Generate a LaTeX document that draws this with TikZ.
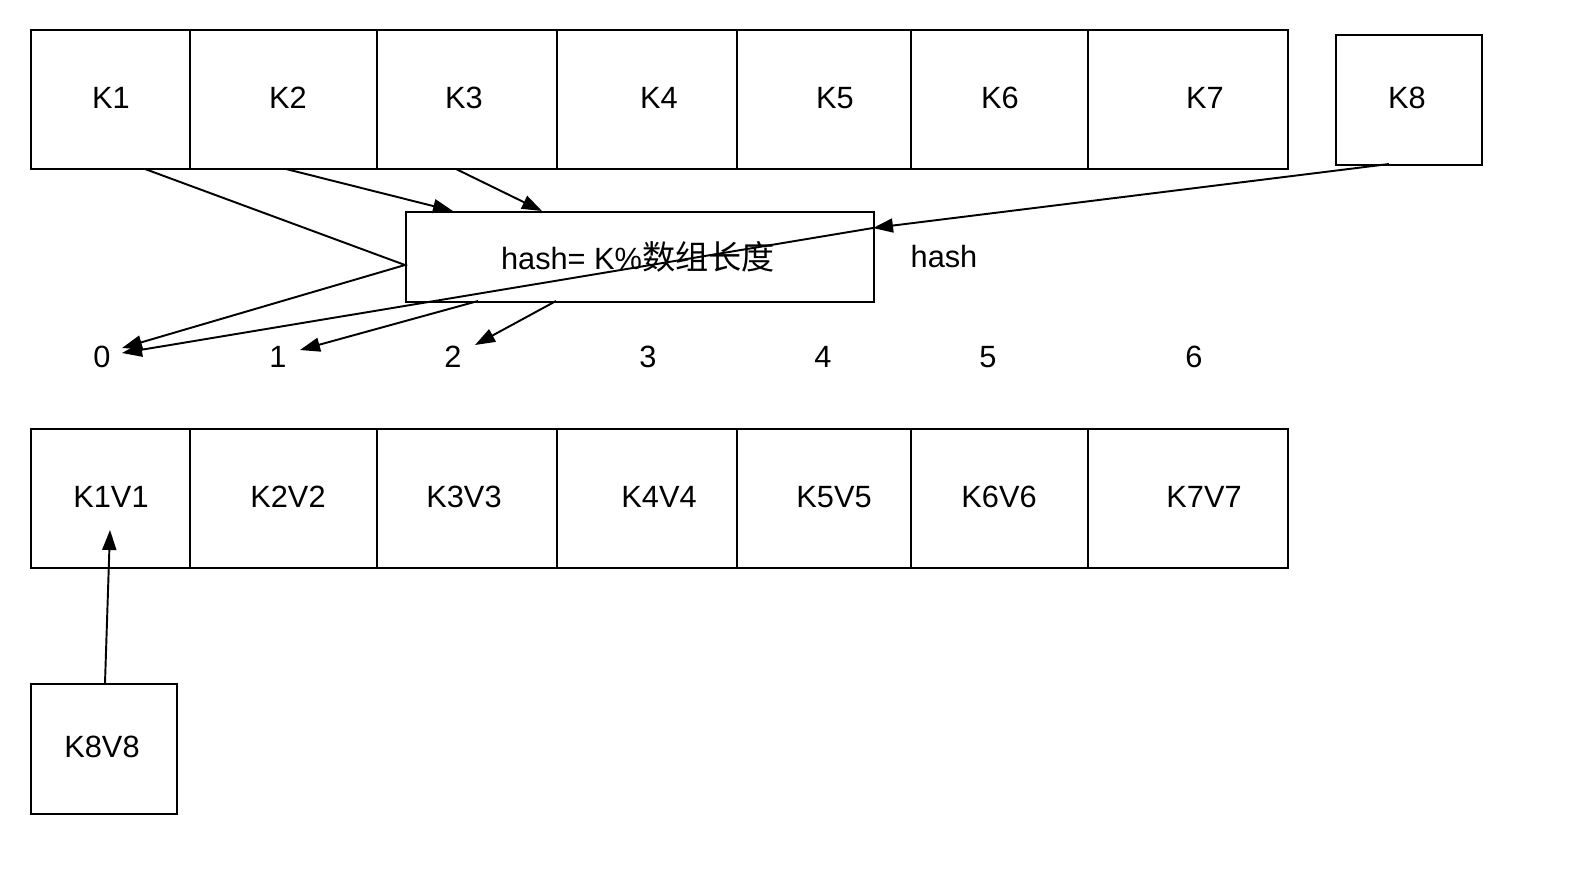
\documentclass[tikz,border=0pt]{standalone}
\usepackage{fontspec}
\setmainfont{Liberation Sans}
\newfontfamily\cjk[Scale=1.08]{Noto Sans CJK SC}
\usetikzlibrary{arrows.meta,calc}
\begin{document}
\begin{tikzpicture}[x=0.02cm,y=-0.02cm,
  cell/.style={draw,line width=1.1pt,inner sep=0,minimum height=2.78cm,anchor=north west},
  box/.style={draw,line width=1.1pt,inner sep=0,anchor=north west},
  lbl/.style={font=\fontsize{17.5}{21}\selectfont,inner sep=0},
  plain/.style={line width=1.1pt},
  conn/.style={line width=1.1pt,-{Triangle[length=0.4cm,width=0.28cm]}}]
\useasboundingbox (0,0) rectangle (1580,894);
% top row
\node[cell,minimum width=3.18cm] (k1) at (30,29) {};
\node[cell,minimum width=3.74cm] (k2) at (189,29) {};
\node[cell,minimum width=3.60cm] (k3) at (376,29) {};
\node[cell,minimum width=3.60cm] (k4) at (556,29) {};
\node[cell,minimum width=3.48cm] (k5) at (736,29) {};
\node[cell,minimum width=3.54cm] (k6) at (910,29) {};
\node[cell,minimum width=4.00cm] (k7) at (1087,29) {};
\node[box,minimum width=2.92cm,minimum height=2.6cm] (k8) at (1335,34) {};
\node[lbl] (tk1) at (111,98) {K1};
\node[lbl] (tk2) at (288,98) {K2};
\node[lbl] (tk3) at (464,98) {K3};
\node[lbl] (tk4) at (659,98) {K4};
\node[lbl] (tk5) at (835,98) {K5};
\node[lbl] (tk6) at (1000,98) {K6};
\node[lbl] (tk7) at (1205,98) {K7};
\node[lbl] (tk8) at (1407,98) {K8};
% hash box
\node[box,minimum width=9.36cm,minimum height=1.8cm] (hash) at (405,211) {};
\node[lbl] (thash) at (638,257) {hash= K\%{\cjk 数组长度}};
\node[lbl] (hlab) at (944,256) {hash};
% indices
\node[lbl] (n0) at (102,357) {0};
\node[lbl] (n1) at (278,357) {1};
\node[lbl] (n2) at (453,357) {2};
\node[lbl] (n3) at (648,357) {3};
\node[lbl] (n4) at (823,357) {4};
\node[lbl] (n5) at (988,357) {5};
\node[lbl] (n6) at (1194,357) {6};
% bottom row
\node[cell,minimum width=3.18cm] (v1) at (30,428) {};
\node[cell,minimum width=3.74cm] (v2) at (189,428) {};
\node[cell,minimum width=3.60cm] (v3) at (376,428) {};
\node[cell,minimum width=3.60cm] (v4) at (556,428) {};
\node[cell,minimum width=3.48cm] (v5) at (736,428) {};
\node[cell,minimum width=3.54cm] (v6) at (910,428) {};
\node[cell,minimum width=4.00cm] (v7) at (1087,428) {};
\node[lbl] (tv1) at (111,497) {K1V1};
\node[lbl] (tv2) at (288,497) {K2V2};
\node[lbl] (tv3) at (464,497) {K3V3};
\node[lbl] (tv4) at (659,497) {K4V4};
\node[lbl] (tv5) at (834,497) {K5V5};
\node[lbl] (tv6) at (999,497) {K6V6};
\node[lbl] (tv7) at (1204,497) {K7V7};
\node[box,minimum width=2.92cm,minimum height=2.6cm] (v8) at (30,683) {};
\node[lbl] (tv8) at (102,747) {K8V8};
% connector points
\coordinate (s1) at (145,169);
\coordinate (s2) at (286,169);
\coordinate (s3) at (456,169);
\coordinate (s8) at (1389,164);
\coordinate (hw) at (405,265);
\coordinate (he) at (873,228);
\coordinate (ht2) at (453,211);
\coordinate (ht3) at (542,211);
\coordinate (hb1) at (478,301);
\coordinate (hb2) at (556,301);
\coordinate (tip0a) at (122,348);
\coordinate (tip0b) at (122,353);
\coordinate (tip1) at (300,350);
\coordinate (tip2) at (475,345);
\coordinate (sv8) at (105,683);
\coordinate (tipv1) at (110,530);
% connectors
\draw[conn] (s1) -- (hw) -- (tip0a);
\draw[conn] (s2) -- (ht2);
\draw[conn] (s3) -- (ht3);
\draw[conn] (hb1) -- (tip1);
\draw[conn] (hb2) -- (tip2);
\draw[conn] (s8) -- (he);
\draw[conn] (he) -- (tip0b);
\draw[conn] (sv8) -- (tipv1);
\end{tikzpicture}
\end{document}
